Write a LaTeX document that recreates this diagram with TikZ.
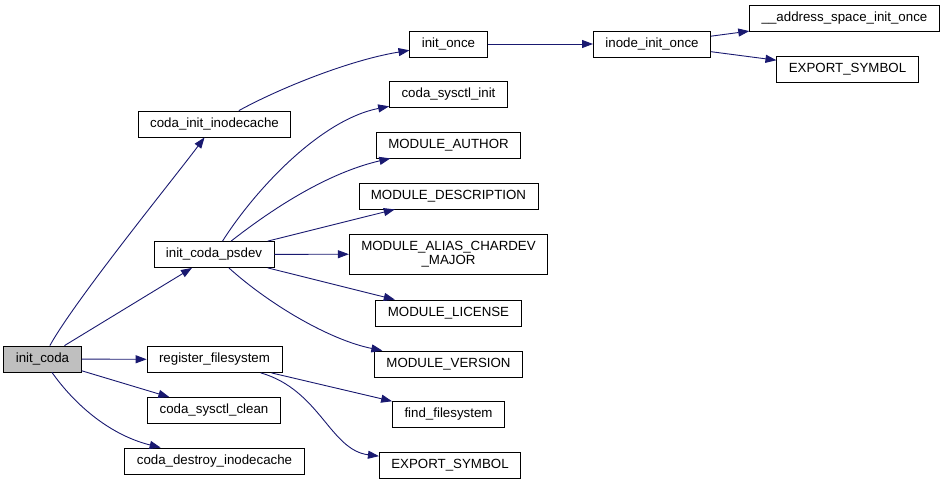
\documentclass[tikz,border=0pt]{standalone}
\usepackage{fontspec}
\setmainfont{Liberation Sans}
\usepackage{xcolor}
\usetikzlibrary{arrows.meta}
\definecolor{edgeblue}{HTML}{191970}
\definecolor{rootgray}{HTML}{BFBFBF}

\begin{document}
\begin{tikzpicture}[
        x=1pt, y=-1pt,
        box/.style={rectangle, draw=black, line width=0.8pt, fill=white, align=center,
                    inner xsep=12pt, inner ysep=0pt, minimum height=26pt,
                    font=\fontsize{13.3}{14.5}\selectfont},
        line/.style={draw=edgeblue, line width=0.9pt, -{Triangle[length=11pt,width=8pt]}}
    ]
    \useasboundingbox (0,0) rectangle (944,484);
    % callers on the left
    \node [box, fill=rootgray] (initcoda) at (42.5,359) {init\_coda};
    \node [box] (inodecache) at (214.5,124) {coda\_init\_inodecache};
    \node [box] (psdev) at (214,254.5) {init\_coda\_psdev};
    \node [box] (regfs) at (214.5,359.5) {register\_filesystem};
    \node [box] (sysclean) at (214,410.5) {coda\_sysctl\_clean};
    \node [box] (destroy) at (214.5,461) {coda\_destroy\_inodecache};
    % middle column
    \node [box] (initonce) at (448.5,44) {init\_once};
    \node [box] (sysinit) at (448.5,94.5) {coda\_sysctl\_init};
    \node [box] (author) at (448.5,145) {MODULE\_AUTHOR};
    \node [box] (descr) at (448.5,196) {MODULE\_DESCRIPTION};
    \node [box, minimum height=40pt] (alias) at (448.5,254) {MODULE\_ALIAS\_CHARDEV\\\_MAJOR};
    \node [box] (license) at (448.5,313) {MODULE\_LICENSE};
    \node [box] (version) at (448.5,364) {MODULE\_VERSION};
    \node [box] (findfs) at (448.5,414.5) {find\_filesystem};
    \node [box] (exportB) at (450,465) {EXPORT\_SYMBOL};
    % right side
    \node [box] (inodeonce) at (652,44) {inode\_init\_once};
    \node [box] (addrspace) at (844.5,18.5) {\_\_address\_space\_init\_once};
    \node [box] (exportA) at (847.5,69.5) {EXPORT\_SYMBOL};

    \draw[line] (initcoda) .. controls (75,300) and (175,177) .. (inodecache);
    \draw[line] (initcoda) -- (psdev);
    \draw[line] (initcoda) -- (regfs);
    \draw[line] (initcoda) -- (sysclean);
    \draw[line] (initcoda) .. controls (75,405) and (110,435) .. (destroy);
    \draw[line] (inodecache) .. controls (280,88) and (350,60) .. (initonce);
    \draw[line] (initonce) -- (inodeonce);
    \draw[line] (inodeonce) -- (addrspace);
    \draw[line] (inodeonce) -- (exportA);
    \draw[line] (psdev) .. controls (255,190) and (320,120) .. (sysinit);
    \draw[line] (psdev) .. controls (290,195) and (340,170) .. (author);
    \draw[line] (psdev) -- (descr);
    \draw[line] (psdev) -- (alias);
    \draw[line] (psdev) -- (license);
    \draw[line] (psdev) .. controls (270,305) and (330,340) .. (version);
    \draw[line] (regfs) -- (findfs);
    \draw[line] (regfs) .. controls (320,390) and (330,450) .. (exportB);
\end{tikzpicture}
\end{document}
